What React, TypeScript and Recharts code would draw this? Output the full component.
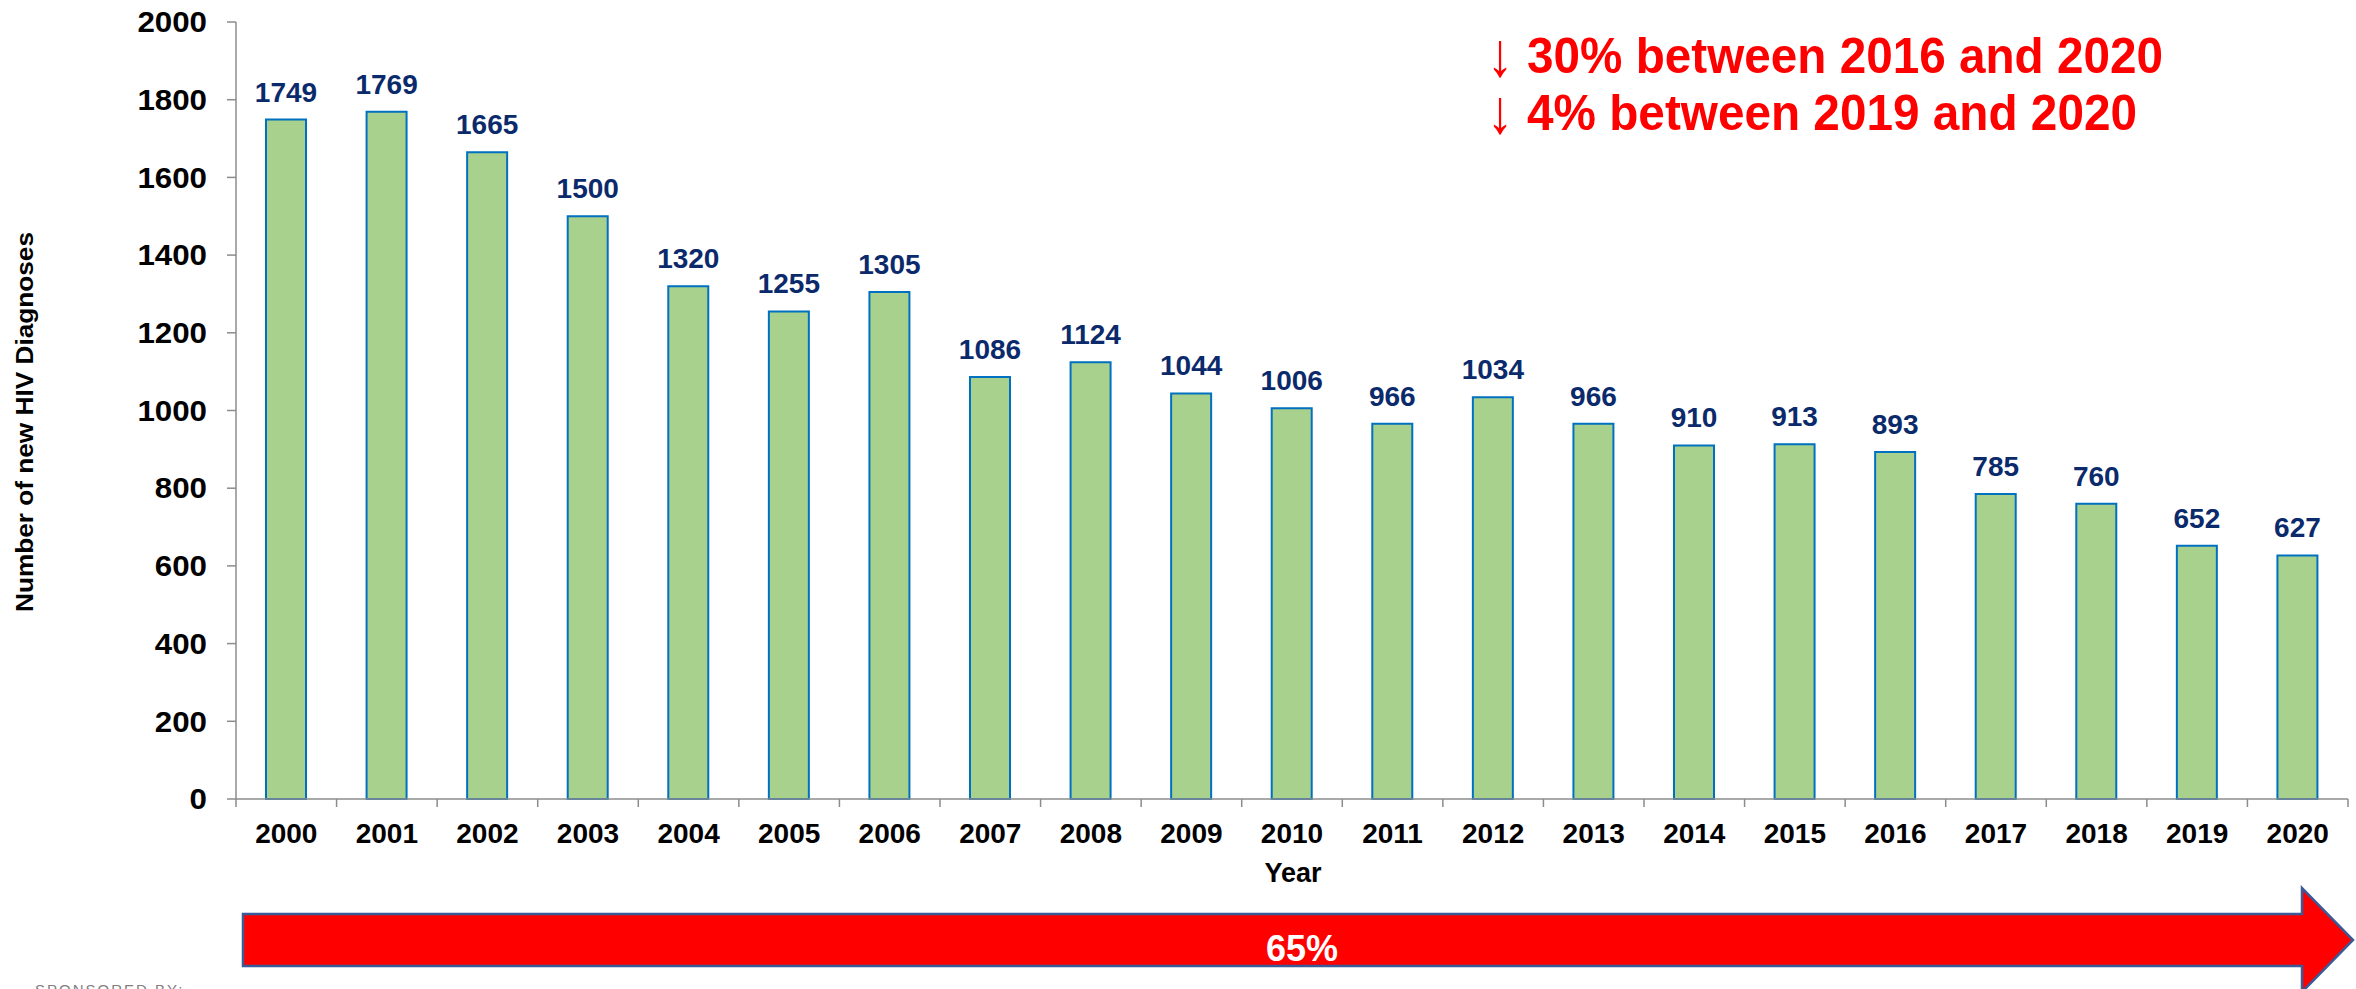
import { BarChart, Bar, XAxis, YAxis, LabelList } from 'recharts'

const years = ['2000', '2001', '2002', '2003', '2004', '2005', '2006', '2007', '2008', '2009', '2010', '2011', '2012', '2013', '2014', '2015', '2016', '2017', '2018', '2019', '2020']
const diagnoses = [1749, 1769, 1665, 1500, 1320, 1255, 1305, 1086, 1124, 1044, 1006, 966, 1034, 966, 910, 913, 893, 785, 760, 652, 627]
const yTicks = [0, 200, 400, 600, 800, 1000, 1200, 1400, 1600, 1800, 2000]
const notes = ['30% between 2016 and 2020', '4% between 2019 and 2020']
const overallDrop = '65%'

const data = years.map((year, i) => ({ year, value: diagnoses[i] }))

const FONT = '"Liberation Sans", Arial, sans-serif'
const W = 2356
const H = 989
const MARGIN = { top: 22, right: 8, bottom: 0, left: 0 }
const Y_AXIS_W = 236
const X_AXIS_H = 190
const AXIS_GREY = '#8c8c8c'
const band = (W - MARGIN.right - Y_AXIS_W) / years.length

// excel-style ticks: marks sit on the category edges, label in the middle
function YearTick(props: any) {
  const { x, y, payload, index } = props
  const half = band / 2
  return (
    <g>
      <line x1={x - half} y1={y} x2={x - half} y2={y + 8} stroke={AXIS_GREY} strokeWidth={1.5} />
      {index === years.length - 1 && (
        <line x1={x + half} y1={y} x2={x + half} y2={y + 8} stroke={AXIS_GREY} strokeWidth={1.5} />
      )}
      <text x={x} y={y + 44} textAnchor="middle" fontSize={28} fontWeight={700} fill="#000" fontFamily={FONT}>
        {payload.value}
      </text>
    </g>
  )
}

function CountTick(props: any) {
  const { x, y, payload } = props
  return (
    <text x={x} y={y} dy="0.355em" textAnchor="end" fontSize={29} fontWeight={700} fill="#000" fontFamily={FONT}
      textLength={String(payload.value).length * 17.4} lengthAdjust="spacingAndGlyphs">
      {payload.value}
    </text>
  )
}

export default function App() {
  return (
    <div style={{ position: 'absolute', left: 0, top: 0, width: W, height: H, background: '#fff', overflow: 'hidden' }}>
      <BarChart width={W} height={H} data={data} margin={MARGIN}>
        <XAxis
          dataKey="year"
          height={X_AXIS_H}
          interval={0}
          tickSize={0}
          tickMargin={0}
          tickLine={false}
          axisLine={{ stroke: AXIS_GREY, strokeWidth: 1.5 }}
          tick={<YearTick />}
        />
        <YAxis
          width={Y_AXIS_W}
          domain={[0, 2000]}
          ticks={yTicks}
          interval={0}
          tickSize={9}
          tickMargin={20}
          axisLine={{ stroke: AXIS_GREY, strokeWidth: 1.5 }}
          tickLine={{ stroke: AXIS_GREY, strokeWidth: 1.5 }}
          tick={<CountTick />}
        />
        <Bar dataKey="value" barSize={40} fill="#a9d18e" stroke="#0070c0" strokeWidth={2} isAnimationActive={false}>
          <LabelList
            dataKey="value"
            position="top"
            offset={18}
            fill="#0b2a6b"
            fontSize={28}
            fontWeight={700}
            fontFamily={FONT}
          />
        </Bar>
      </BarChart>

      <svg width={W} height={H} style={{ position: 'absolute', left: 0, top: 0, pointerEvents: 'none' }}>
        <text
          x={25}
          y={422}
          transform="rotate(-90 25 422)"
          textAnchor="middle"
          dominantBaseline="central"
          fontSize={23}
          fontWeight={700}
          fontFamily={FONT}
          fill="#000"
          textLength={380}
          lengthAdjust="spacingAndGlyphs"
        >
          Number of new HIV Diagnoses
        </text>
        <text x={1293} y={882} textAnchor="middle" fontSize={27} fontWeight={700} fontFamily={FONT} fill="#000">
          Year
        </text>

        {notes.map((note, i) => (
          <g key={note}>
            <text
              x={1500}
              y={73 + i * 57}
              transform={`translate(0 ${73 + i * 57}) scale(1.15 1.35) translate(${-1500 * 0.15 / 1.15} ${-(73 + i * 57)})`}
              dy={2}
              textAnchor="middle"
              fontSize={46}
              fontFamily={FONT}
              fill="#ff0000"
            >
              ↓
            </text>
            <text
              x={1527}
              y={73 + i * 57}
              fontSize={50}
              fontWeight={700}
              fontFamily={FONT}
              fill="#ff0000"
              textLength={i === 0 ? 636 : 610}
              lengthAdjust="spacingAndGlyphs"
            >
              {note}
            </text>
          </g>
        ))}

        <polygon
          points="243,914 2302,914 2302,888 2353,940 2302,992 2302,966 243,966"
          fill="#ff0000"
          stroke="#3a5a98"
          strokeWidth={2.5}
        />
        <text x={1302} y={961} textAnchor="middle" fontSize={36} fontWeight={700} fontFamily={FONT} fill="#fff">
          {overallDrop}
        </text>

        <text x={35} y={995} fontSize={15} letterSpacing={2} fontFamily={FONT} fill="#808080">
          SPONSORED BY:
        </text>
      </svg>
    </div>
  )
}
